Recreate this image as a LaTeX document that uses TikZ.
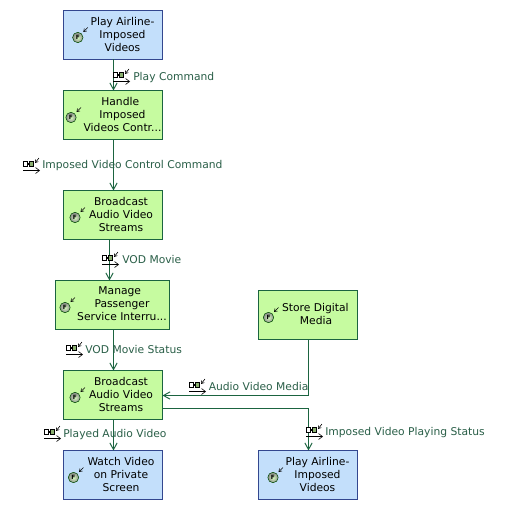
\documentclass[tikz,border=0pt]{standalone}
\usepackage{fontspec}
\setmainfont{DejaVu Sans}
\usetikzlibrary{arrows.meta,calc}
\definecolor{flowc}{HTML}{1B6440}
\definecolor{flowt}{HTML}{2A5F48}
\definecolor{grnf}{HTML}{C6FBA0}
\definecolor{bluf}{HTML}{C3DFFB}
\definecolor{blub}{HTML}{33478F}
\newcommand{\tr}[1]{\hspace*{#1pt}}
\tikzset{
 x=0.75pt,y=-0.75pt,
 funcbox/.style={draw=flowc,fill=grnf,line width=0.75pt,minimum height=36.75pt,inner sep=0pt,outer sep=0pt},
 envbox/.style={funcbox,draw=blub,fill=bluf},
 wide99/.style={minimum width=74.25pt},
 boxtext/.style={font=\fontsize{8.05pt}{9.75pt}\selectfont,align=center,text=black,inner sep=0pt},
 flowtext/.style={font=\fontsize{8.05pt}{9.75pt}\selectfont,text=flowt,anchor=base west,inner sep=0pt},
 flow/.style={draw=flowc,line width=0.75pt,-{Straight Barb[length=5pt,width=5.5pt,line width=0.7pt]}},
 pics/fnicon/.style={code={
  \shade[inner color=grnf!70!white,outer color=black!45,draw=black!70!green,line width=0.4pt] (0,0) circle (5.2);
  \node[inner sep=0pt,font=\fontsize{4.4pt}{5pt}\selectfont\bfseries,text=black] at (0,0) {F};
  \draw[line width=0.45pt,black,-{Straight Barb[length=2pt,width=2.6pt,line width=0.4pt]}] (10,-10) -- (5.5,-5.5);
 }},
 pics/flowicon/.style={code={
  \draw[line width=0.6pt,fill=white] (0.5,0.5) rectangle (4,5.5);
  \draw[line width=0.6pt,fill=grnf!70!black] (6.5,0.5) rectangle (10.5,5.5);
  \draw[line width=1.2pt] (4,3) -- (6.5,3);
  \draw[line width=0.45pt,black,-{Straight Barb[length=3pt,width=4.5pt,line width=0.45pt]}] (0,9.5) -- (17,9.5);
  \draw[line width=0.45pt,black,-{Straight Barb[length=2pt,width=2.6pt,line width=0.4pt]}] (16,-3) -- (12,2);
 }}
}
\begin{document}
\begin{tikzpicture}
\useasboundingbox (0,0) rectangle (509,510);
\fill[white] (0,0) rectangle (509,510);
\node[envbox,wide99] (A) at (113,35) {};
\node[funcbox,wide99] (B) at (113,115) {};
\node[funcbox,wide99] (C) at (113,215) {};
\node[funcbox,minimum width=85.5pt] (D) at (112.5,305) {};
\node[funcbox,wide99] (E) at (113,395) {};
\node[envbox,wide99] (F) at (113,475) {};
\node[funcbox,wide99] (G) at (308,315) {};
\node[envbox,wide99] (H) at (308,475) {};
\coordinate (mx) at (113.5,0);
\coordinate (cdx) at (109.5,0);
\coordinate (rx) at (308.5,0);
\coordinate (ein) at (0,395.5);
\coordinate (eout) at (0,408.5);
\draw[flow] (A.south -| mx) -- (B.north -| mx);
\draw[flow] (B.south -| mx) -- (C.north -| mx);
\draw[flow] (C.south -| cdx) -- (D.north -| cdx);
\draw[flow] (D.south -| mx) -- (E.north -| mx);
\draw[flow] (E.south -| mx) -- (F.north -| mx);
\draw[flow] (G.south -| rx) |- (E.east |- ein);
\draw[flow] (E.east |- eout) -| (H.north -| rx);
% box text
\node[boxtext] (tA) at (122.5,34) {Play Airline-\\Imposed\tr{3.75}\\Videos};
\node[boxtext] (tB) at (122.5,114) {Handle\tr{3.4}\\Imposed\tr{3.4}\\Videos Contr...};
\node[boxtext] (tC) at (121,214) {Broadcast\\Audio Video\tr{1}\\Streams};
\node[boxtext] (tD) at (122,304) {Manage\tr{3.4}\\Passenger\tr{2}\\Service Interru...};
\node[boxtext] (tE) at (121,394) {Broadcast\\Audio Video\tr{1}\\Streams};
\node[boxtext] (tF) at (121,474) {Watch Video\\on Private\\Screen};
\node[boxtext] (tG) at (316,314) {Store Digital\tr{1}\\Media};
\node[boxtext] (tH) at (317.5,474) {Play Airline-\\Imposed\tr{3.75}\\Videos};
% icons
\pic at (77.8,37.5) {fnicon};
\pic at (71,117.5) {fnicon};
\pic at (75,217.5) {fnicon};
\pic at (65,307.5) {fnicon};
\pic at (75,397.5) {fnicon};
\pic at (73.5,477.5) {fnicon};
\pic at (268.5,317.5) {fnicon};
\pic at (273,477.5) {fnicon};
% flow labels
\pic at (113,72) {flowicon};
\node[flowtext] (l1) at (133,80) {Play Command};
\pic at (23,161) {flowicon};
\node[flowtext] (l2) at (42,168) {Imposed Video Control Command};
\pic at (102,255) {flowicon};
\node[flowtext] (l3) at (122,263) {VOD Movie};
\pic at (66,345) {flowicon};
\node[flowtext] (l4) at (85,353) {VOD Movie Status};
\pic at (44,429) {flowicon};
\node[flowtext] (l5) at (63,437) {Played Audio Video};
\pic at (189,382) {flowicon};
\node[flowtext] (l6) at (208.5,390) {Audio Video Media};
\pic at (306,427) {flowicon};
\node[flowtext] (l7) at (325,435) {Imposed Video Playing Status};
\end{tikzpicture}
\end{document}
